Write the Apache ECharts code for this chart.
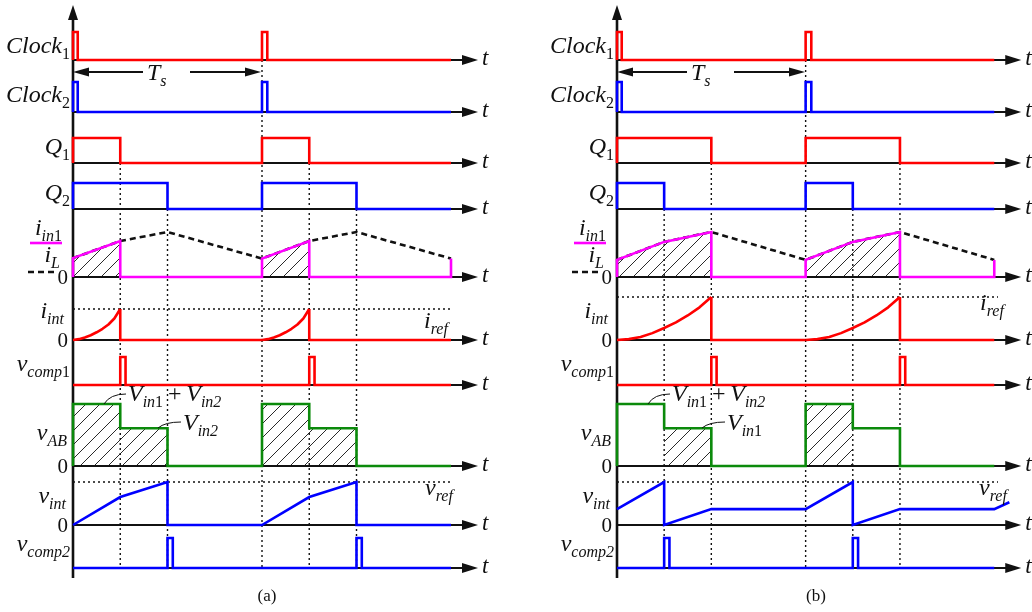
<!DOCTYPE html>
<html>
<head>
<meta charset="utf-8">
<title>Timing diagram</title>
<script src="https://cdn.jsdelivr.net/npm/echarts/dist/echarts.min.js"></script>
<style>
  html, body { margin: 0; padding: 0; background: #fff; }
  #c { width: 1032px; height: 612px; }
</style>
</head>
<body>
<div id="c"></div>
<script>
// Time is measured in switching periods (Ts = 1); levels are normalised per trace.
const T_END = 2.0;       // signals are drawn for two periods
const AXIS_TIP = 2.143;  // where the time-axis arrows end

// ---------- waveform (a) : [t / Ts, level] ----------
const clock1A = [[0,0],[0,1],[0.025,1],[0.025,0],[1,0],[1,1],[1.028,1],[1.028,0],[2,0]];
const clock2A = [[0,0],[0,1],[0.025,1],[0.025,0],[1,0],[1,1],[1.028,1],[1.028,0],[2,0]];
const q1A = [[0,0],[0,1],[0.25,1],[0.25,0],[1,0],[1,1],[1.25,1],[1.25,0],[2,0]];
const q2A = [[0,0],[0,1],[0.5,1],[0.5,0],[1,0],[1,1],[1.5,1],[1.5,0],[2,0]];
const iin1A = [[0,0],[0,0.42],[0.25,0.8],[0.25,0],[1,0],[1,0.41],[1.25,0.8],[1.25,0],[2,0],[2,0.41]];
const iLA = [[0,0.42],[0.25,0.8],[0.5,1],[1,0.41],[1.25,0.8],[1.5,1],[2,0.41]];
const iintRiseA1 = [[0,0],[0.03125,0.02],[0.0625,0.06],[0.09375,0.11],[0.125,0.18],[0.15625,0.26],[0.1875,0.36],[0.21875,0.5],[0.25,0.72]];
const iintRiseA2 = [[1,0],[1.03125,0.02],[1.0625,0.06],[1.09375,0.11],[1.125,0.18],[1.15625,0.26],[1.1875,0.36],[1.21875,0.5],[1.25,0.72]];
const iintFallA1 = [[0.25,0.72],[0.25,0],[1,0]];
const iintFallA2 = [[1.25,0.72],[1.25,0],[2,0]];
const vcomp1A = [[0,0],[0.25,0],[0.25,1],[0.278,1],[0.278,0],[1.25,0],[1.25,1],[1.278,1],[1.278,0],[2,0]];
const vabA = [[0,0],[0,1],[0.25,1],[0.25,0.61],[0.5,0.61],[0.5,0],[1,0],[1,1],[1.25,1],[1.25,0.61],[1.5,0.61],[1.5,0],[2,0]];
const vintA = [[0,0],[0.25,0.65],[0.5,1],[0.5,0],[1,0],[1.25,0.65],[1.5,1],[1.5,0],[2,0]];
const vcomp2A = [[0,0],[0.5,0],[0.5,1],[0.528,1],[0.528,0],[1.5,0],[1.5,1],[1.528,1],[1.528,0],[2,0]];
const hatchIinA = [[[0,0],[0,0.42],[0.25,0.8],[0.25,0]], [[1,0],[1,0.41],[1.25,0.8],[1.25,0]]];
const hatchVabA = [[[0,0],[0,1],[0.25,1],[0.25,0.61],[0.5,0.61],[0.5,0]], [[1,0],[1,1],[1.25,1],[1.25,0.61],[1.5,0.61],[1.5,0]]];
const edgesA = [[0.25,'q1'],[0.5,'q2'],[1,'clock1'],[1.25,'q1'],[1.5,'q2']];
const irefA = 0.72, vrefA = 1.0, refEndA = 2.0;

// ---------- waveform (b) ----------
const clock1B = [[0,0],[0,1],[0.025,1],[0.025,0],[1,0],[1,1],[1.03,1],[1.03,0],[2,0]];
const clock2B = [[0,0],[0,1],[0.025,1],[0.025,0],[1,0],[1,1],[1.03,1],[1.03,0],[2,0]];
const q1B = [[0,0],[0,1],[0.5,1],[0.5,0],[1,0],[1,1],[1.5,1],[1.5,0],[2,0]];
const q2B = [[0,0],[0,1],[0.25,1],[0.25,0],[1,0],[1,1],[1.25,1],[1.25,0],[2,0]];
const iin1B = [[0,0],[0,0.38],[0.25,0.78],[0.5,1],[0.5,0],[1,0],[1,0.38],[1.25,0.78],[1.5,1],[1.5,0],[2,0],[2,0.38]];
const iLB = [[0,0.38],[0.25,0.78],[0.5,1],[1,0.38],[1.25,0.78],[1.5,1],[2,0.38]];
const iintRiseB1 = [[0,0],[0.0625,0.02],[0.125,0.07],[0.1875,0.16],[0.25,0.28],[0.3125,0.41],[0.375,0.57],[0.4375,0.76],[0.5,1]];
const iintRiseB2 = [[1,0],[1.0625,0.02],[1.125,0.07],[1.1875,0.16],[1.25,0.28],[1.3125,0.41],[1.375,0.57],[1.4375,0.76],[1.5,1]];
const iintFallB1 = [[0.5,1],[0.5,0],[1,0]];
const iintFallB2 = [[1.5,1],[1.5,0],[2,0]];
const vcomp1B = [[0,0],[0.5,0],[0.5,1],[0.528,1],[0.528,0],[1.5,0],[1.5,1],[1.528,1],[1.528,0],[2,0]];
const vabB = [[0,0],[0,1],[0.25,1],[0.25,0.61],[0.5,0.61],[0.5,0],[1,0],[1,1],[1.25,1],[1.25,0.61],[1.5,0.61],[1.5,0],[2,0]];
const vintB = [[0,0.37],[0.25,1],[0.25,0],[0.5,0.37],[1,0.37],[1.25,1],[1.25,0],[1.5,0.37],[2,0.37],[2.08,0.53]];
const vcomp2B = [[0,0],[0.25,0],[0.25,1],[0.278,1],[0.278,0],[1.25,0],[1.25,1],[1.278,1],[1.278,0],[2,0]];
const hatchIinB = [[[0,0],[0,0.38],[0.25,0.78],[0.5,1],[0.5,0]], [[1,0],[1,0.38],[1.25,0.78],[1.5,1],[1.5,0]]];
const hatchVabB = [[[0.25,0],[0.25,0.61],[0.5,0.61],[0.5,0]], [[1,0],[1,1],[1.25,1],[1.25,0]]];
const edgesB = [[0.25,'q2'],[0.5,'q1'],[1,'clock1'],[1.25,'q2'],[1.5,'q1']];
const irefB = 1.0, vrefB = 1.0, refEndB = 2.02;

// ---------- layout ----------
const ROWS = {
  clock1: { base: 60,  amp: 28 },
  clock2: { base: 112, amp: 30 },
  q1:     { base: 163, amp: 25 },
  q2:     { base: 209, amp: 26 },
  iin:    { base: 277, amp: 45 },
  iint:   { base: 340, amp: 43 },
  vcomp1: { base: 385, amp: 28 },
  vab:    { base: 466, amp: 62 },
  vint:   { base: 525, amp: 43 },
  vcomp2: { base: 568, amp: 30 }
};
const ROW_ORDER = ['clock1','clock2','q1','q2','iin','iint','vcomp1','vab','vint','vcomp2'];
const PANEL_X = [73, 617];   // pixel position of t = 0 in each panel
const PX_PER_TS = 189;
const XMAX = 2.2;
const AXIS_BOTTOM = 578, AXIS_TOP = 5;

const RED = '#ff0000', BLUE = '#0000ff', MAGENTA = '#ff00ff', GREEN = '#0b8a0b', INK = '#111';
const FONT = '"Liberation Serif", "Times New Roman", serif';
const fnt = (size, italic) => (italic ? 'italic ' : '') + size + 'px ' + FONT;

const Y = (row, lv) => ROWS[row].base - lv * ROWS[row].amp;

// hatch fill
const hatch = (() => {
  const n = 14;
  const c = document.createElement('canvas');
  c.width = n; c.height = n;
  const g = c.getContext('2d');
  g.strokeStyle = '#2a2a2a'; g.lineWidth = 1;
  g.beginPath();
  g.moveTo(-1, n + 1); g.lineTo(n + 1, -1);
  g.moveTo(-1, 1); g.lineTo(1, -1);
  g.moveTo(n - 1, n + 1); g.lineTo(n + 1, n - 1);
  g.stroke();
  return c;
})();

const series = [];
function trace(p, row, pts, color, extra) {
  series.push(Object.assign({
    type: 'line', xAxisIndex: p, yAxisIndex: p, symbol: 'none', silent: true, z: 5,
    data: pts.map(([t, lv]) => [t, Y(row, lv)]),
    lineStyle: { color: color, width: 2.6, join: 'miter', cap: 'butt' }
  }, extra || {}));
}
function dotted(p, pts, z) {
  series.push({
    type: 'line', xAxisIndex: p, yAxisIndex: p, symbol: 'none', silent: true, z: z || 2,
    data: pts, lineStyle: { color: INK, width: 1.4, type: [2, 3] }
  });
}
function hatchSeries(p, row, polys) {
  series.push({
    type: 'custom', xAxisIndex: p, yAxisIndex: p, silent: true, z: 1,
    data: polys.map((_, i) => [i]),
    renderItem: (params, api) => {
      const poly = polys[api.value(0)];
      return {
        type: 'polygon',
        shape: { points: poly.map(([t, lv]) => api.coord([t, Y(row, lv)])) },
        style: { fill: { image: hatch, repeat: 'repeat' }, stroke: null }
      };
    }
  });
}
function axesSeries(p) {
  series.push({
    type: 'custom', xAxisIndex: p, yAxisIndex: p, silent: true, z: 3,
    data: ROW_ORDER.map(k => [0, ROWS[k].base]),
    renderItem: (params, api) => {
      const y = api.value(1);
      const s = api.coord([0, y]), e = api.coord([AXIS_TIP, y]);
      return { type: 'group', children: [
        { type: 'line', shape: { x1: s[0], y1: s[1], x2: e[0] - 10, y2: e[1] }, style: { stroke: INK, lineWidth: 2 } },
        { type: 'polygon', shape: { points: [[e[0], e[1]], [e[0] - 16, e[1] - 5], [e[0] - 16, e[1] + 5]] }, style: { fill: INK } },
        { type: 'text', style: { text: 't', x: e[0] + 4, y: e[1] - 1, font: fnt(23, true), fill: INK, textAlign: 'left', textVerticalAlign: 'middle' } }
      ] };
    }
  });
  series.push({
    type: 'custom', xAxisIndex: p, yAxisIndex: p, silent: true, z: 3,
    data: [[0, AXIS_BOTTOM, AXIS_TOP]],
    renderItem: (params, api) => {
      const b = api.coord([0, api.value(1)]), t = api.coord([0, api.value(2)]);
      return { type: 'group', children: [
        { type: 'line', shape: { x1: b[0], y1: b[1], x2: t[0], y2: t[1] + 10 }, style: { stroke: INK, lineWidth: 2.6 } },
        { type: 'polygon', shape: { points: [[t[0], t[1]], [t[0] - 5, t[1] + 15], [t[0] + 5, t[1] + 15]] }, style: { fill: INK } }
      ] };
    }
  });
}

const panels = [
  { clock1: clock1A, clock2: clock2A, q1: q1A, q2: q2A, iin1: iin1A, iL: iLA,
    rises: [iintRiseA1, iintRiseA2], falls: [iintFallA1, iintFallA2],
    vcomp1: vcomp1A, vab: vabA, vint: vintA, vcomp2: vcomp2A,
    hatchIin: hatchIinA, hatchVab: hatchVabA, edges: edgesA, iref: irefA, vref: vrefA, refEnd: refEndA },
  { clock1: clock1B, clock2: clock2B, q1: q1B, q2: q2B, iin1: iin1B, iL: iLB,
    rises: [iintRiseB1, iintRiseB2], falls: [iintFallB1, iintFallB2],
    vcomp1: vcomp1B, vab: vabB, vint: vintB, vcomp2: vcomp2B,
    hatchIin: hatchIinB, hatchVab: hatchVabB, edges: edgesB, iref: irefB, vref: vrefB, refEnd: refEndB }
];

panels.forEach((d, p) => {
  hatchSeries(p, 'iin', d.hatchIin);
  hatchSeries(p, 'vab', d.hatchVab);
  d.edges.forEach(([t, from]) => dotted(p, [[t, ROWS[from].base], [t, ROWS.vcomp2.base]]));
  dotted(p, [[0, Y('iint', d.iref)], [d.refEnd, Y('iint', d.iref)]]);
  dotted(p, [[0, Y('vint', d.vref)], [d.refEnd, Y('vint', d.vref)]]);
  axesSeries(p);
  trace(p, 'clock1', d.clock1, RED);
  trace(p, 'clock2', d.clock2, BLUE);
  trace(p, 'q1', d.q1, RED);
  trace(p, 'q2', d.q2, BLUE);
  trace(p, 'iin', d.iL, INK, { lineStyle: { color: INK, width: 2.6, type: [6, 4] }, z: 4 });
  trace(p, 'iin', d.iin1, MAGENTA);
  d.rises.forEach(r => trace(p, 'iint', r, RED, { lineStyle: { color: RED, width: 2.6, join: 'round' } }));
  d.falls.forEach(r => trace(p, 'iint', r, RED));
  trace(p, 'vcomp1', d.vcomp1, RED);
  trace(p, 'vab', d.vab, GREEN);
  trace(p, 'vint', d.vint, BLUE);
  trace(p, 'vcomp2', d.vcomp2, BLUE);
});

// ---------- text ----------
const meas = document.createElement('canvas').getContext('2d');
const textW = (t, font) => { meas.font = font; return meas.measureText(t).width; };
// parts: [text, kind]  m = main italic, n = main upright, s = subscript italic, u = subscript upright
function mathText(x, baseline, parts, anchor) {
  const specs = parts.map(([t, k]) => {
    const sub = (k === 's' || k === 'u');
    const font = fnt(sub ? 16 : 24, k === 'm' || k === 's');
    return { t, sub, font, w: textW(t, font) };
  });
  const total = specs.reduce((a, s) => a + s.w, 0);
  let cx = anchor === 'right' ? x - total : (anchor === 'center' ? x - total / 2 : x);
  return specs.map(s => {
    const el = { type: 'text', z: 20, silent: true, style: {
      text: s.t, x: cx, font: s.font, fill: INK, textAlign: 'left', textVerticalAlign: 'middle',
      y: s.sub ? baseline + 5 - 0.33 * 16 : baseline - 0.33 * 24 } };
    cx += s.w;
    return el;
  });
}
function plainText(x, cy, text, size, align) {
  return { type: 'text', z: 20, silent: true, style: {
    text, x, y: cy, font: fnt(size, false), fill: INK, textAlign: align, textVerticalAlign: 'middle' } };
}

const graphics = [];
PANEL_X.forEach((px, p) => {
  const o = px - PANEL_X[0];
  const L = (...a) => graphics.push(...mathText(...a));
  L(70 + o, 55,  [['Clock','m'],['1','u']], 'right');
  L(70 + o, 104, [['Clock','m'],['2','u']], 'right');
  L(70 + o, 156, [['Q','m'],['1','u']], 'right');
  L(70 + o, 202, [['Q','m'],['2','u']], 'right');
  L(62 + o, 237, [['i','m'],['in','s'],['1','u']], 'right');
  L(60 + o, 264, [['i','m'],['L','s']], 'right');
  L(64 + o, 320, [['i','m'],['int','s']], 'right');
  L(70 + o, 373, [['v','m'],['comp','s'],['1','u']], 'right');
  L(67 + o, 442, [['v','m'],['AB','s']], 'right');
  L(66 + o, 505, [['v','m'],['int','s']], 'right');
  L(70 + o, 553, [['v','m'],['comp2','s']], 'right');
  ['iin','iint','vab','vint'].forEach(k => graphics.push(plainText(68 + o, ROWS[k].base + 1, '0', 21, 'right')));

  // legend strokes beside the current labels
  graphics.push({ type: 'line', z: 20, silent: true, shape: { x1: 30 + o, y1: 243, x2: 62 + o, y2: 243 }, style: { stroke: MAGENTA, lineWidth: 2.6 } });
  graphics.push({ type: 'line', z: 20, silent: true, shape: { x1: 28 + o, y1: 272, x2: 56 + o, y2: 272 }, style: { stroke: INK, lineWidth: 2.6, lineDash: [6, 4] } });

  // period marker
  graphics.push({ type: 'line', z: 20, silent: true, shape: { x1: 85 + o, y1: 72, x2: 143 + o, y2: 72 }, style: { stroke: INK, lineWidth: 1.8 } });
  graphics.push({ type: 'polygon', z: 20, silent: true, shape: { points: [[73 + o, 72], [89 + o, 67.5], [89 + o, 76.5]] }, style: { fill: INK } });
  graphics.push({ type: 'line', z: 20, silent: true, shape: { x1: 190 + o, y1: 72, x2: 250 + o, y2: 72 }, style: { stroke: INK, lineWidth: 1.8 } });
  graphics.push({ type: 'polygon', z: 20, silent: true, shape: { points: [[261 + o, 72], [245 + o, 67.5], [245 + o, 76.5]] }, style: { fill: INK } });
  L(147 + o, 82, [['T','m'],['s','s']], 'left');

  // voltage level annotations
  L(128 + o, 403, [['V','m'],['in','s'],['1','u'],['\u2009+\u2009','n'],['V','m'],['in2','s']], 'left');
  graphics.push({ type: 'bezierCurve', z: 20, silent: true, shape: { x1: 104 + o, y1: 404, cpx1: 110 + o, cpy1: 394, x2: 126 + o, y2: 394 }, style: { stroke: INK, lineWidth: 1, fill: null } });
  L(183 + o, 432, p === 0 ? [['V','m'],['in2','s']] : [['V','m'],['in','s'],['1','u']], 'left');
  graphics.push({ type: 'bezierCurve', z: 20, silent: true, shape: { x1: 158 + o, y1: 428, cpx1: 165 + o, cpy1: 422, x2: 181 + o, y2: 422 }, style: { stroke: INK, lineWidth: 1, fill: null } });

  graphics.push(plainText(p === 0 ? 267 : 816, 597, p === 0 ? '(a)' : '(b)', 17, 'center'));
});
// reference labels
graphics.push(...mathText(424, 330, [['i','m'],['ref','s']], 'left'));
graphics.push(...mathText(980, 312, [['i','m'],['ref','s']], 'left'));
graphics.push(...mathText(425, 497, [['v','m'],['ref','s']], 'left'));
graphics.push(...mathText(979, 497, [['v','m'],['ref','s']], 'left'));

const chart = echarts.init(document.getElementById('c'), null, { renderer: 'canvas' });
chart.setOption({
  animation: false,
  backgroundColor: '#fff',
  grid: PANEL_X.map(px => ({ left: px, top: 0, width: PX_PER_TS * XMAX, height: 612, containLabel: false })),
  xAxis: PANEL_X.map((_, i) => ({ gridIndex: i, type: 'value', min: 0, max: XMAX, show: false })),
  yAxis: PANEL_X.map((_, i) => ({ gridIndex: i, type: 'value', min: 0, max: 612, inverse: true, show: false })),
  series: series,
  graphic: { elements: graphics }
});
</script>
</body>
</html>
